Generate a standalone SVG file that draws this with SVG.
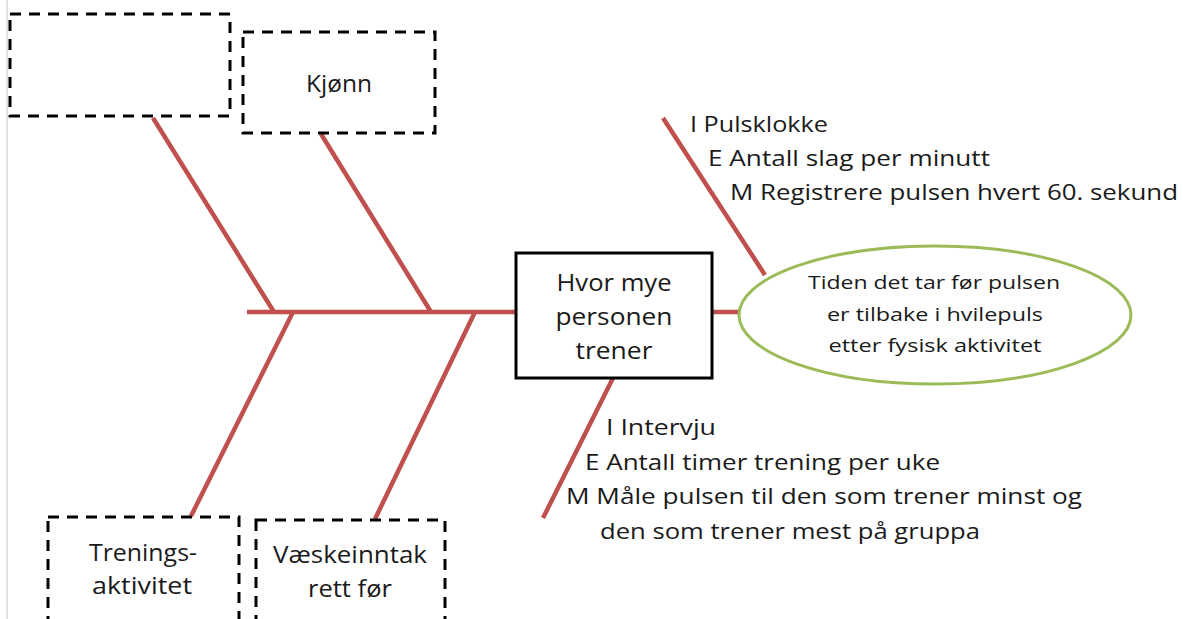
<svg xmlns="http://www.w3.org/2000/svg" width="1186" height="619" viewBox="0 0 1186 619">
<style>
.bone{stroke:#c0504d;stroke-width:4.5;stroke-linecap:butt;fill:none}
.dash{fill:#fff;stroke:#000;stroke-width:3;stroke-dasharray:11 8}
.t{font-family:"Open Sans","Liberation Sans",sans-serif;fill:#1a1a1a}
.c{text-anchor:middle}
</style>
<rect width="1186" height="619" fill="#fff"/>
<line x1="7" y1="0" x2="7" y2="619" stroke="#d9d9d9" stroke-width="1.5"/>
<g id="connectors">
<line class="bone" x1="247" y1="312" x2="516" y2="312"/>
<line class="bone" x1="712" y1="312" x2="740" y2="312"/>
<line class="bone" x1="153" y1="118" x2="274" y2="312"/>
<line class="bone" x1="321" y1="134" x2="431" y2="312"/>
<line class="bone" x1="293" y1="312" x2="191" y2="516"/>
<line class="bone" x1="475" y1="312" x2="375" y2="519"/>
<line class="bone" x1="663" y1="118" x2="765" y2="275"/>
<line class="bone" x1="613" y1="378" x2="543" y2="518"/>
</g>
<g id="box-empty"><rect class="dash" x="10" y="14" width="220" height="102"/></g>
<g id="box-kjonn"><rect class="dash" x="243" y="32" width="192" height="101"/>
<text class="t c" x="339" y="92" font-size="23" textLength="66" lengthAdjust="spacingAndGlyphs">Kjønn</text></g>
<g id="box-trening"><rect class="dash" x="48" y="517" width="191" height="130"/>
<text class="t c" x="143" y="561" font-size="23" textLength="108" lengthAdjust="spacingAndGlyphs">Trenings-</text>
<text class="t c" x="142" y="594" font-size="23" textLength="100" lengthAdjust="spacingAndGlyphs">aktivitet</text></g>
<g id="box-vaske"><rect class="dash" x="256" y="520" width="189" height="130"/>
<text class="t c" x="350" y="563" font-size="23" textLength="154" lengthAdjust="spacingAndGlyphs">Væskeinntak</text>
<text class="t c" x="350" y="597" font-size="23" textLength="84" lengthAdjust="spacingAndGlyphs">rett før</text></g>
<g id="head"><rect x="516" y="253" width="196" height="125" fill="#fff" stroke="#000" stroke-width="3"/>
<text class="t c" x="614" y="291" font-size="23" textLength="115" lengthAdjust="spacingAndGlyphs">Hvor mye</text>
<text class="t c" x="614" y="325" font-size="23" textLength="117" lengthAdjust="spacingAndGlyphs">personen</text>
<text class="t c" x="614" y="359" font-size="23" textLength="77" lengthAdjust="spacingAndGlyphs">trener</text></g>
<g id="effect"><ellipse cx="935" cy="315" rx="196" ry="69" fill="#fff" stroke="#9bbb59" stroke-width="3"/>
<text class="t c" x="934" y="289" font-size="19" textLength="252" lengthAdjust="spacingAndGlyphs">Tiden det tar før pulsen</text>
<text class="t c" x="935" y="321" font-size="19" textLength="216" lengthAdjust="spacingAndGlyphs">er tilbake i hvilepuls</text>
<text class="t c" x="935" y="352" font-size="19" textLength="213" lengthAdjust="spacingAndGlyphs">etter fysisk aktivitet</text></g>
<g id="label-puls">
<text class="t" x="690" y="132" font-size="21" textLength="138" lengthAdjust="spacingAndGlyphs">I Pulsklokke</text>
<text class="t" x="708" y="166" font-size="21" textLength="282" lengthAdjust="spacingAndGlyphs">E Antall slag per minutt</text>
<text class="t" x="730" y="200" font-size="21" textLength="448" lengthAdjust="spacingAndGlyphs">M Registrere pulsen hvert 60. sekund</text>
</g>
<g id="label-intervju">
<text class="t" x="606" y="435" font-size="21" textLength="110" lengthAdjust="spacingAndGlyphs">I Intervju</text>
<text class="t" x="585" y="470" font-size="21" textLength="355" lengthAdjust="spacingAndGlyphs">E Antall timer trening per uke</text>
<text class="t" x="566" y="504" font-size="21" textLength="516" lengthAdjust="spacingAndGlyphs">M Måle pulsen til den som trener minst og</text>
<text class="t" x="600" y="539" font-size="21" textLength="380" lengthAdjust="spacingAndGlyphs">den som trener mest på gruppa</text>
</g>
</svg>
